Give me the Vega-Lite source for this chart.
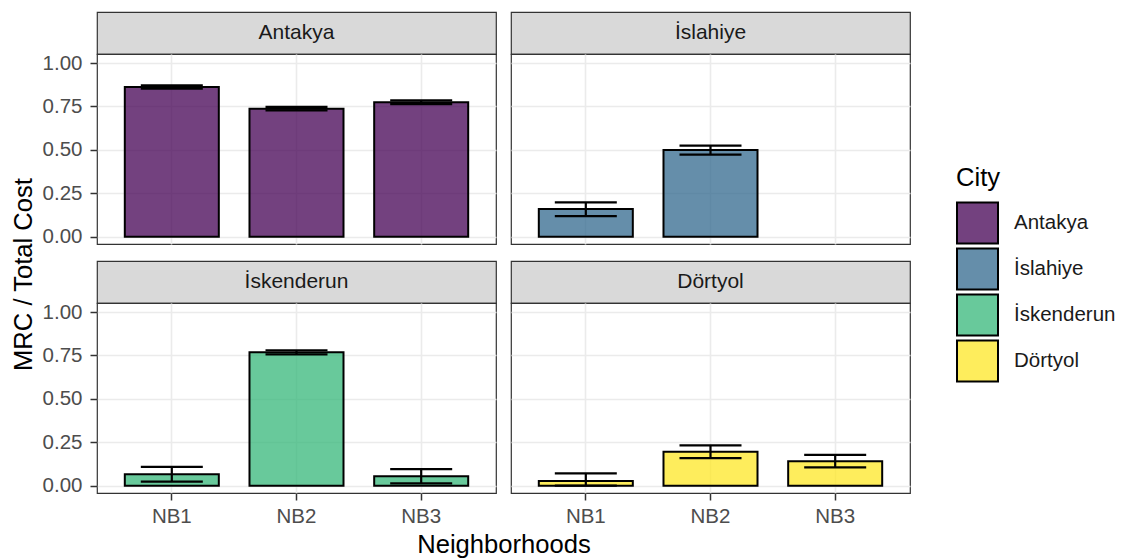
{
  "$schema": "https://vega.github.io/schema/vega-lite/v6.json",
  "padding": {"left": 10, "top": 11, "right": 0, "bottom": 0},
  "background": "white",
  "config": {
    "font": "Liberation Sans",
    "view": {"stroke": "#333333", "strokeWidth": 1.2},
    "tick": {"opacity": 1},
    "axis": {
      "domain": false,
      "labelFont": "Liberation Sans",
      "labelFontSize": 20.5,
      "labelColor": "#4d4d4d",
      "tickColor": "#333333",
      "tickWidth": 1.5,
      "tickSize": 7,
      "gridColor": "#ebebeb",
      "titleFont": "Liberation Sans",
      "titleFontSize": 25.6,
      "titleFontWeight": "normal",
      "titleColor": "#000000"
    }
  },
  "datasets": {
    "d": [
      {"City": "Antakya", "NB": "NB1", "mrc": 0.862, "lo": 0.852, "hi": 0.872},
      {"City": "Antakya", "NB": "NB2", "mrc": 0.737, "lo": 0.727, "hi": 0.747},
      {"City": "Antakya", "NB": "NB3", "mrc": 0.774, "lo": 0.763, "hi": 0.785},
      {"City": "İslahiye", "NB": "NB1", "mrc": 0.159, "lo": 0.118, "hi": 0.198},
      {"City": "İslahiye", "NB": "NB2", "mrc": 0.499, "lo": 0.473, "hi": 0.524},
      {"City": "İskenderun", "NB": "NB1", "mrc": 0.066, "lo": 0.023, "hi": 0.108},
      {"City": "İskenderun", "NB": "NB2", "mrc": 0.768, "lo": 0.756, "hi": 0.780},
      {"City": "İskenderun", "NB": "NB3", "mrc": 0.054, "lo": 0.013, "hi": 0.095},
      {"City": "Dörtyol", "NB": "NB1", "mrc": 0.027, "lo": 0.000, "hi": 0.071},
      {"City": "Dörtyol", "NB": "NB2", "mrc": 0.195, "lo": 0.159, "hi": 0.232},
      {"City": "Dörtyol", "NB": "NB3", "mrc": 0.141, "lo": 0.106, "hi": 0.178}
    ]
  },
  "data": {"name": "d"},
  "columns": 2,
  "spacing": {"row": 0, "column": 15},
  "bounds": "flush",
  "concat": [
    {
      "width": 399, "height": 42,
      "view": {"fill": "#d9d9d9", "stroke": "#333333", "strokeWidth": 1.2},
      "transform": [{"filter": "datum.City === 'Antakya'"}, {"aggregate": [{"op": "count", "as": "n"}], "groupby": ["City"]}],
      "mark": {"type": "text", "fontSize": 21, "color": "#1a1a1a", "baseline": "middle", "align": "center"},
      "encoding": {"text": {"field": "City", "type": "nominal"}}
    },
    {
      "width": 399, "height": 42,
      "view": {"fill": "#d9d9d9", "stroke": "#333333", "strokeWidth": 1.2},
      "transform": [{"filter": "datum.City === 'İslahiye'"}, {"aggregate": [{"op": "count", "as": "n"}], "groupby": ["City"]}],
      "mark": {"type": "text", "fontSize": 21, "color": "#1a1a1a", "baseline": "middle", "align": "center"},
      "encoding": {"text": {"field": "City", "type": "nominal"}}
    },
    {
      "width": 399, "height": 190,
      "transform": [{"filter": "datum.City === 'Antakya'"}],
      "encoding": {
        "x": {"field": "NB", "type": "nominal", "scale": {"domain": ["NB1", "NB2", "NB3"], "paddingInner": 0.246, "paddingOuter": 0.223},
              "axis": {"grid": true, "gridWidth": 1.6, "bandPosition": 0.5, "labels": false, "ticks": false, "title": null, "minExtent": 0}}
      },
      "layer": [
        {
          "mark": {"type": "bar", "fillOpacity": 0.75, "stroke": "black", "strokeWidth": 2},
          "encoding": {
            "y": {"field": "mrc", "type": "quantitative", "scale": {"domain": [-0.042, 1.052], "nice": false, "zero": false},
                  "axis": {"values": [0, 0.125, 0.25, 0.375, 0.5, 0.625, 0.75, 0.875, 1], "grid": true,
                           "gridWidth": {"condition": {"test": "datum.value % 0.25 === 0", "value": 1.6}, "value": 0.8},
                           "tickOpacity": {"condition": {"test": "datum.value % 0.25 === 0", "value": 1}, "value": 0},
                           "labelExpr": "datum.value % 0.25 === 0 ? format(datum.value, '.2f') : ''",
                           "labelPadding": 8,
                           "title": "MRC / Total Cost", "titleX": -66, "titleY": 220, "titleBaseline": "alphabetic", "titleAlign": "center", "titleAngle": 270,
                           "minExtent": 0}},
            "y2": {"datum": 0},
            "color": {"field": "City", "type": "nominal",
                      "scale": {"domain": ["Antakya", "İslahiye", "İskenderun", "Dörtyol"], "range": ["#440154", "#31688E", "#35B779", "#FDE725"]},
                      "legend": {"orient": "none", "legendX": 859, "legendY": 154, "title": "City",
                                 "titleFontSize": 25.6, "titleFontWeight": "normal", "titleColor": "#000000", "titlePadding": 10,
                                 "labelFontSize": 20.5, "labelColor": "#1a1a1a", "labelOffset": 15,
                                 "symbolType": "square", "symbolSize": 1681, "symbolStrokeWidth": 2, "symbolStrokeColor": "black", "rowPadding": -3,
                                 "encode": {"symbols": {"update": {"fillOpacity": {"value": 0.75}, "stroke": {"value": "black"}, "strokeWidth": {"value": 2}}}}}}
          }
        },
        {"mark": {"type": "rule", "color": "black", "strokeWidth": 2.2}, "encoding": {"y": {"field": "lo", "type": "quantitative"}, "y2": {"field": "hi"}}},
        {"mark": {"type": "tick", "color": "black", "opacity": 1, "size": 62, "thickness": 2.2}, "encoding": {"y": {"field": "lo", "type": "quantitative"}}},
        {"mark": {"type": "tick", "color": "black", "opacity": 1, "size": 62, "thickness": 2.2}, "encoding": {"y": {"field": "hi", "type": "quantitative"}}}
      ]
    },
    {
      "width": 399, "height": 190,
      "transform": [{"filter": "datum.City === 'İslahiye'"}],
      "encoding": {
        "x": {"field": "NB", "type": "nominal", "scale": {"domain": ["NB1", "NB2", "NB3"], "paddingInner": 0.246, "paddingOuter": 0.223},
              "axis": {"grid": true, "gridWidth": 1.6, "bandPosition": 0.5, "labels": false, "ticks": false, "title": null, "minExtent": 0}}
      },
      "layer": [
        {
          "mark": {"type": "bar", "fillOpacity": 0.75, "stroke": "black", "strokeWidth": 2},
          "encoding": {
            "y": {"field": "mrc", "type": "quantitative", "scale": {"domain": [-0.042, 1.052], "nice": false, "zero": false},
                  "axis": {"values": [0, 0.125, 0.25, 0.375, 0.5, 0.625, 0.75, 0.875, 1], "grid": true,
                           "gridWidth": {"condition": {"test": "datum.value % 0.25 === 0", "value": 1.6}, "value": 0.8},
                           "labels": false, "ticks": false, "title": null, "minExtent": 0}},
            "y2": {"datum": 0},
            "color": {"field": "City", "type": "nominal"}
          }
        },
        {"mark": {"type": "rule", "color": "black", "strokeWidth": 2.2}, "encoding": {"y": {"field": "lo", "type": "quantitative"}, "y2": {"field": "hi"}}},
        {"mark": {"type": "tick", "color": "black", "opacity": 1, "size": 62, "thickness": 2.2}, "encoding": {"y": {"field": "lo", "type": "quantitative"}}},
        {"mark": {"type": "tick", "color": "black", "opacity": 1, "size": 62, "thickness": 2.2}, "encoding": {"y": {"field": "hi", "type": "quantitative"}}}
      ]
    },
    {
      "width": 399, "height": 17,
      "view": {"stroke": null},
      "transform": [{"filter": "false"}],
      "mark": {"type": "text"},
      "encoding": {}
    },
    {
      "width": 399, "height": 17,
      "view": {"stroke": null},
      "transform": [{"filter": "false"}],
      "mark": {"type": "text"},
      "encoding": {}
    },
    {
      "width": 399, "height": 42,
      "view": {"fill": "#d9d9d9", "stroke": "#333333", "strokeWidth": 1.2},
      "transform": [{"filter": "datum.City === 'İskenderun'"}, {"aggregate": [{"op": "count", "as": "n"}], "groupby": ["City"]}],
      "mark": {"type": "text", "fontSize": 21, "color": "#1a1a1a", "baseline": "middle", "align": "center"},
      "encoding": {"text": {"field": "City", "type": "nominal"}}
    },
    {
      "width": 399, "height": 42,
      "view": {"fill": "#d9d9d9", "stroke": "#333333", "strokeWidth": 1.2},
      "transform": [{"filter": "datum.City === 'Dörtyol'"}, {"aggregate": [{"op": "count", "as": "n"}], "groupby": ["City"]}],
      "mark": {"type": "text", "fontSize": 21, "color": "#1a1a1a", "baseline": "middle", "align": "center"},
      "encoding": {"text": {"field": "City", "type": "nominal"}}
    },
    {
      "width": 399, "height": 190,
      "transform": [{"filter": "datum.City === 'İskenderun'"}],
      "encoding": {
        "x": {"field": "NB", "type": "nominal", "scale": {"domain": ["NB1", "NB2", "NB3"], "paddingInner": 0.246, "paddingOuter": 0.223},
              "axis": {"grid": true, "gridWidth": 1.6, "bandPosition": 0.5, "labelAngle": 0, "labelPadding": 6,
                       "title": "Neighborhoods", "titleX": 406.5, "titleY": 59, "titleBaseline": "alphabetic", "titleAlign": "center"}}
      },
      "layer": [
        {
          "mark": {"type": "bar", "fillOpacity": 0.75, "stroke": "black", "strokeWidth": 2},
          "encoding": {
            "y": {"field": "mrc", "type": "quantitative", "scale": {"domain": [-0.042, 1.052], "nice": false, "zero": false},
                  "axis": {"values": [0, 0.125, 0.25, 0.375, 0.5, 0.625, 0.75, 0.875, 1], "grid": true,
                           "gridWidth": {"condition": {"test": "datum.value % 0.25 === 0", "value": 1.6}, "value": 0.8},
                           "tickOpacity": {"condition": {"test": "datum.value % 0.25 === 0", "value": 1}, "value": 0},
                           "labelExpr": "datum.value % 0.25 === 0 ? format(datum.value, '.2f') : ''",
                           "labelPadding": 8, "title": null, "minExtent": 0}},
            "y2": {"datum": 0},
            "color": {"field": "City", "type": "nominal"}
          }
        },
        {"mark": {"type": "rule", "color": "black", "strokeWidth": 2.2}, "encoding": {"y": {"field": "lo", "type": "quantitative"}, "y2": {"field": "hi"}}},
        {"mark": {"type": "tick", "color": "black", "opacity": 1, "size": 62, "thickness": 2.2}, "encoding": {"y": {"field": "lo", "type": "quantitative"}}},
        {"mark": {"type": "tick", "color": "black", "opacity": 1, "size": 62, "thickness": 2.2}, "encoding": {"y": {"field": "hi", "type": "quantitative"}}}
      ]
    },
    {
      "width": 399, "height": 190,
      "transform": [{"filter": "datum.City === 'Dörtyol'"}],
      "encoding": {
        "x": {"field": "NB", "type": "nominal", "scale": {"domain": ["NB1", "NB2", "NB3"], "paddingInner": 0.246, "paddingOuter": 0.223},
              "axis": {"grid": true, "gridWidth": 1.6, "bandPosition": 0.5, "labelAngle": 0, "labelPadding": 6, "title": null}}
      },
      "layer": [
        {
          "mark": {"type": "bar", "fillOpacity": 0.75, "stroke": "black", "strokeWidth": 2},
          "encoding": {
            "y": {"field": "mrc", "type": "quantitative", "scale": {"domain": [-0.042, 1.052], "nice": false, "zero": false},
                  "axis": {"values": [0, 0.125, 0.25, 0.375, 0.5, 0.625, 0.75, 0.875, 1], "grid": true,
                           "gridWidth": {"condition": {"test": "datum.value % 0.25 === 0", "value": 1.6}, "value": 0.8},
                           "labels": false, "ticks": false, "title": null, "minExtent": 0}},
            "y2": {"datum": 0},
            "color": {"field": "City", "type": "nominal"}
          }
        },
        {"mark": {"type": "rule", "color": "black", "strokeWidth": 2.2}, "encoding": {"y": {"field": "lo", "type": "quantitative"}, "y2": {"field": "hi"}}},
        {"mark": {"type": "tick", "color": "black", "opacity": 1, "size": 62, "thickness": 2.2}, "encoding": {"y": {"field": "lo", "type": "quantitative"}}},
        {"mark": {"type": "tick", "color": "black", "opacity": 1, "size": 62, "thickness": 2.2}, "encoding": {"y": {"field": "hi", "type": "quantitative"}}}
      ]
    }
  ]
}
